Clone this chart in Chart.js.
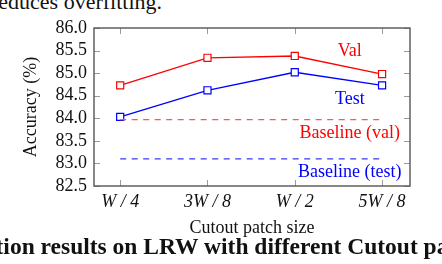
<!DOCTYPE html>
<html>
<head>
<meta charset="utf-8">
<script src="https://cdn.jsdelivr.net/npm/chart.js@4"></script>
<style>
  html, body { margin: 0; padding: 0; background: #fff; }
  body { width: 442px; height: 264px; overflow: hidden; position: relative; }
  #chart { position: absolute; left: 0; top: 0; }
  .para { position: absolute; white-space: nowrap; font-family: "Liberation Serif", serif;
          font-size: 22px; line-height: 22px; color: #111; }
</style>
</head>
<body>
<div class="para" style="left:-9px; top:-9px;">reduces overfitting.</div>
<canvas id="chart" width="442" height="264"></canvas>
<div class="para" style="left:-75px; top:235px; font-size:23.5px; font-weight:bold;">Evaluation results on LRW with different Cutout patch sizes.</div>
<script>
(function(){
const patchSizes = ['W / 4', '3W / 8', 'W / 2', '5W / 8'];
const valAcc = [84.73, 85.34, 85.38, 84.98];
const testAcc = [84.03, 84.62, 85.02, 84.73];
const baselineVal = 83.97;
const baselineTest = 83.10;
const yTicks = [82.5, 83.0, 83.5, 84.0, 84.5, 85.0, 85.5, 86.0];

const serif = '"Liberation Serif", "Times New Roman", serif';
const RED = '#ff0000';
const BLUE = '#0000ff';

const pts = (arr) => arr.map((v, i) => ({x: i, y: v}));
const flat = (v) => [{x: 0, y: v}, {x: patchSizes.length - 1, y: v}];

// pgfplots-like box with inner ticks and text labels next to the curves
const boxPlugin = {
  id: 'box',
  afterDraw(chart) {
    const {ctx, chartArea: a, scales: {x, y}} = chart;
    ctx.save();
    ctx.strokeStyle = '#9a9a9a';
    ctx.lineWidth = 1;
    ctx.beginPath();
    yTicks.forEach(t => {
      const py = Math.round(y.getPixelForValue(t)) + 0.5;
      ctx.moveTo(a.left, py); ctx.lineTo(a.left + 6, py);
      ctx.moveTo(a.right, py); ctx.lineTo(a.right - 6, py);
    });
    patchSizes.forEach((_, i) => {
      const px = Math.round(x.getPixelForValue(i)) + 0.5;
      ctx.moveTo(px, a.top); ctx.lineTo(px, a.top + 6);
      ctx.moveTo(px, a.bottom); ctx.lineTo(px, a.bottom - 6);
    });
    ctx.stroke();

    ctx.strokeStyle = '#555';
    ctx.lineWidth = 1.4;
    ctx.strokeRect(a.left, a.top, a.right - a.left, a.bottom - a.top);

    ctx.font = '18px ' + serif;
    ctx.textAlign = 'center';
    ctx.textBaseline = 'middle';
    const notes = [
      ['Val', 2.63, 85.49, RED],
      ['Test', 2.63, 84.42, BLUE],
      ['Baseline (val)', 2.63, 83.67, RED],
      ['Baseline (test)', 2.63, 82.80, BLUE],
    ];
    notes.forEach(([t, vx, vy, c]) => {
      ctx.fillStyle = c;
      ctx.fillText(t, x.getPixelForValue(vx), y.getPixelForValue(vy));
    });
    ctx.restore();
  }
};

const lineSet = (label, data, color) => ({
  label, data, borderColor: color, borderWidth: 1.3,
  pointStyle: 'rect', pointRadius: 5, pointBorderWidth: 1.2,
  pointBackgroundColor: '#fff', pointBorderColor: color, tension: 0
});
const dashSet = (label, data, color) => ({
  label, data, borderColor: color, borderWidth: 1.3,
  borderDash: [6, 5.5], pointRadius: 0, tension: 0
});

new Chart(document.getElementById('chart'), {
  type: 'line',
  data: {
    datasets: [
      dashSet('Baseline (val)', flat(baselineVal), '#ff5555'),
      dashSet('Baseline (test)', flat(baselineTest), '#3a3aff'),
      lineSet('Val', pts(valAcc), RED),
      lineSet('Test', pts(testAcc), BLUE),
    ]
  },
  options: {
    responsive: false,
    animation: false,
    layout: { padding: { top: 28, right: 32, bottom: 0, left: 0 } },
    plugins: { legend: { display: false }, tooltip: { enabled: false } },
    scales: {
      x: {
        type: 'linear', min: -0.3, max: 3.32,
        afterBuildTicks: (s) => { s.ticks = patchSizes.map((_, i) => ({value: i})); },
        afterFit: (s) => { s.height = 78; },
        grid: { display: false, drawTicks: false },
        border: { display: false },
        ticks: {
          padding: 5, color: '#111', maxRotation: 0, autoSkip: false,
          font: { family: serif, size: 18, style: 'italic' },
          callback: (v) => patchSizes[v]
        },
        title: {
          display: true, text: 'Cutout patch size', color: '#111',
          font: { family: serif, size: 18 }, padding: { top: 0, bottom: 25 }
        }
      },
      y: {
        min: 82.5, max: 86,
        afterBuildTicks: (s) => { s.ticks = yTicks.map(v => ({value: v})); },
        afterFit: (s) => { s.width = 94; },
        grid: { display: false, drawTicks: false },
        border: { display: false },
        ticks: {
          padding: 7, color: '#111', autoSkip: false,
          font: { family: serif, size: 18 },
          callback: (v) => v.toFixed(1)
        },
        title: {
          display: true, text: 'Accuracy (%)', color: '#111',
          font: { family: serif, size: 18 }, padding: { top: 20, bottom: 0 }
        }
      }
    }
  },
  plugins: [boxPlugin]
});
})();
</script>
</body>
</html>
